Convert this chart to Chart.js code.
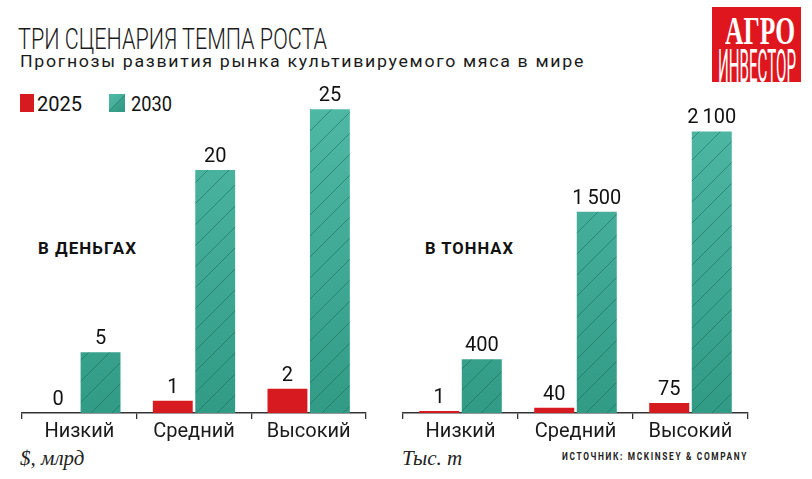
<!DOCTYPE html>
<html><head><meta charset="utf-8">
<script src="https://cdn.jsdelivr.net/npm/chart.js@4/dist/chart.umd.min.js"></script>
<style>
html,body{margin:0;padding:0;background:#fff;}
body{width:812px;height:479px;position:relative;overflow:hidden;font-family:"Roboto","DejaVu Sans Condensed",sans-serif;color:#111;}
.abs{position:absolute;white-space:nowrap;line-height:1;transform-origin:left top;}
#title{left:18px;top:24px;font-size:30px;font-weight:300;color:#1a1a1a;}
#sub{left:20px;top:53px;font-size:17px;letter-spacing:1.6px;color:#1a1a1a;}
.lg{top:94px;width:14px;height:18px;}
.lgt{top:94px;font-size:20px;}
.sec{top:241px;font-size:16px;font-weight:bold;letter-spacing:1px;}
.unit{top:446px;font-family:"Liberation Serif","DejaVu Serif",serif;font-style:italic;font-size:21px;color:#222;line-height:1.2;}
#src{left:562px;top:452px;font-size:10px;font-weight:bold;letter-spacing:2px;color:#222;}
#logo{left:712px;top:7px;width:89px;height:75px;background:#e0161f;overflow:hidden;}
#logo1{left:13px;top:4px;color:#fff;font-family:"Liberation Serif","DejaVu Serif",serif;font-weight:bold;font-size:39px;}
#logo2{left:6px;top:36px;color:#fff;font-family:"Roboto",sans-serif;font-size:46px;}
.cw{position:absolute;top:0;height:460px;}
</style></head>
<body>
<div id="title" class="abs" data-w="309">ТРИ СЦЕНАРИЯ ТЕМПА РОСТА</div>
<div id="sub" class="abs" data-w="565">Прогнозы развития рынка культивируемого мяса в мире</div>
<div class="abs lg" style="left:20px;background:#d71a1f;"></div>
<div class="abs lgt" style="left:37px;" data-w="45">2025</div>
<div class="abs lg" style="left:109px;width:16px;background:linear-gradient(135deg,#52baa6 0%,#45af9a 47%,#2a8a76 50%,#3aa18c 53%,#2f9985 100%);"></div>
<div class="abs lgt" style="left:131px;" data-w="41">2030</div>
<div class="abs sec" style="left:38px;" data-w="99">В ДЕНЬГАХ</div>
<div class="abs sec" style="left:425px;" data-w="89">В ТОННАХ</div>
<div class="abs unit" style="left:20px;">$, млрд</div>
<div class="abs unit" style="left:402px;">Тыс. т</div>
<div id="src" class="abs" data-w="186">ИСТОЧНИК: MCKINSEY &amp; COMPANY</div>
<div id="logo" class="abs"><div id="logo1" class="abs" data-w="70">АГРО</div><div id="logo2" class="abs" data-w="78">ИНВЕСТОР</div></div>

<div class="cw" style="left:0;width:390px;"><canvas id="c1"></canvas></div>
<div class="cw" style="left:390px;width:422px;"><canvas id="c2"></canvas></div>

<script>
// ---- data ----
const categories = ["Низкий", "Средний", "Высокий"];
const seriesNames = ["2025", "2030"];
const money2025 = [0, 1, 2];
const money2030 = [5, 20, 25];
const tonnes2025 = [1, 40, 75];
const tonnes2030 = [400, 1500, 2100];

const RED = "#d71a1f";
const FONT = '"Roboto","DejaVu Sans Condensed",sans-serif';

// fit text widths
document.querySelectorAll("[data-w]").forEach(el => {
  const w = +el.dataset.w;
  const actual = el.getBoundingClientRect().width;
  if (actual > 0) el.style.transform = "scaleX(" + (w / actual) + ")";
});

function fmt(v){
  const s = String(v);
  return s.length > 3 ? s.slice(0, s.length-3) + "\u2009" + s.slice(s.length-3) : s;
}

function makePattern(ctx, H){
  const w = 21, h = Math.ceil(H / w) * w;
  const c = document.createElement("canvas");
  c.width = w; c.height = h;
  const g = c.getContext("2d");
  const grad = g.createLinearGradient(0, 100, 0, 413);
  grad.addColorStop(0, "#50b9a5");
  grad.addColorStop(1, "#329b86");
  g.fillStyle = grad;
  g.fillRect(0, 0, w, h);
  g.strokeStyle = "rgba(25,110,92,0.6)";
  g.lineWidth = 1;
  for (let k = -1; k <= h / w + 2; k++) {
    g.beginPath();
    g.moveTo(-w, k * w + w);
    g.lineTo(2 * w, k * w - 2 * w);
    g.stroke();
  }
  return ctx.createPattern(c, "repeat");
}

const valueLabels = {
  id: "valueLabels",
  afterDatasetsDraw(chart){
    const ctx = chart.ctx;
    ctx.save();
    ctx.font = '20px ' + FONT;
    ctx.fillStyle = "#111";
    ctx.textAlign = "center";
    ctx.textBaseline = "bottom";
    chart.data.datasets.forEach((ds, i) => {
      const meta = chart.getDatasetMeta(i);
      meta.data.forEach((el, j) => {
        ctx.fillText(fmt(ds.data[j]), el.x, el.y - 3);
      });
    });
    ctx.restore();
  }
};

function build(id, d25, d30, ymax, padL, padR, minLen){
  const canvas = document.getElementById(id);
  const ctx = canvas.getContext("2d");
  const pat = makePattern(ctx, 480);
  return new Chart(ctx, {
    type: "bar",
    data: {
      labels: categories,
      datasets: [
        {label: seriesNames[0], data: d25, backgroundColor: RED, minBarLength: minLen,
         categoryPercentage: 0.74, barPercentage: 0.94},
        {label: seriesNames[1], data: d30, backgroundColor: pat,
         categoryPercentage: 0.74, barPercentage: 0.94}
      ]
    },
    options: {
      responsive: true, maintainAspectRatio: false, animation: false,
      layout: {padding: {left: padL, right: padR, top: 0, bottom: 15}},
      plugins: {legend: {display: false}, tooltip: {enabled: false}},
      scales: {
        x: {
          grid: {drawOnChartArea: false, drawTicks: true, tickLength: 6, color: "#333", lineWidth: 1.3, offset: true},
          border: {display: true, color: "#333", width: 1.5},
          ticks: {padding: 1, color: "#1a1a1a", font: {family: FONT, size: 20, lineHeight: 1.2}}
        },
        y: {display: false, min: 0, max: ymax}
      }
    },
    plugins: [valueLabels]
  });
}

build("c1", money2025, money2030, 34, 22, 24, 0);
build("c2", tonnes2025, tonnes2030, 3080, 13, 64, 2);
</script>
</body></html>
